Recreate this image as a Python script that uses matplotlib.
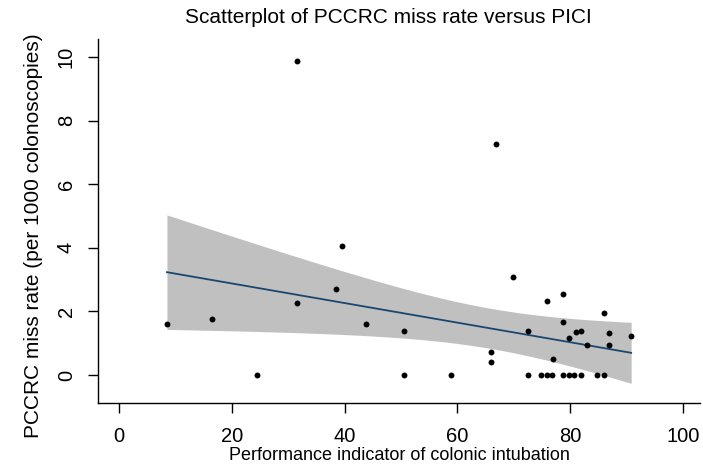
# Scatterplot of PCCRC miss rate against PICI, with linear fit and 95% CI band
import numpy as np
import matplotlib.pyplot as plt

plt.rcParams['font.family'] = ['Liberation Sans', 'DejaVu Sans']

# performance indicator of colonic intubation (%)
pici = [8.5, 16.5, 24.5, 31.5, 31.5, 38.5, 39.5, 43.8, 50.5, 50.5,
        58.8, 65.9, 65.9, 66.8, 69.8, 72.6, 72.6, 74.8, 75.8, 75.8,
        76.8, 77.0, 78.8, 78.8, 78.8, 79.7, 79.7, 80.7, 81.0, 81.9,
        81.9, 82.9, 84.8, 85.9, 85.9, 86.8, 86.8, 90.8]
# PCCRC miss rate per 1000 colonoscopies
miss_rate = [1.60, 1.77, 0.0, 9.88, 2.25, 2.69, 4.06, 1.60, 1.39, 0.0,
             0.0, 0.73, 0.40, 7.26, 3.08, 1.39, 0.0, 0.0, 2.32, 0.0,
             0.0, 0.51, 2.54, 1.66, 0.0, 1.16, 0.0, 0.0, 1.34, 1.39,
             0.0, 0.95, 0.0, 1.94, 0.0, 1.33, 0.95, 1.23]

x = np.array(pici)
y = np.array(miss_rate)

# OLS fit and confidence interval of the mean prediction
n = len(x)
b1, b0 = np.polyfit(x, y, 1)
resid = y - (b0 + b1 * x)
s = np.sqrt(np.sum(resid ** 2) / (n - 2))
t_crit = 2.028  # t(0.975, 36)
xg = np.linspace(x.min(), x.max(), 120)
yg = b0 + b1 * xg
se = s * np.sqrt(1.0 / n + (xg - x.mean()) ** 2 / np.sum((x - x.mean()) ** 2))

fig = plt.figure(figsize=(7.03, 4.68), dpi=100)
ax = fig.add_axes([0.1394, 0.1389, 0.8563, 0.7778])

ax.fill_between(xg, yg - t_crit * se, yg + t_crit * se, color='#c0c0c0',
                linewidth=0)
ax.plot(xg, yg, color='#1a476f', linewidth=1.3)
ax.scatter(x, y, s=18, color='black', zorder=3, linewidths=0)

ax.set_xlim(-3.72, 103.0)
ax.set_ylim(-0.88, 10.57)
ax.set_xticks([0, 20, 40, 60, 80, 100])
ax.set_yticks([0, 2, 4, 6, 8, 10])
ax.tick_params(axis='both', length=7, width=1, labelsize=14.5)
ax.tick_params(axis='x', pad=10)
ax.tick_params(axis='y', pad=9)
for lab in ax.get_yticklabels():
    lab.set_rotation(90)
    lab.set_va('center')

ax.spines['top'].set_visible(False)
ax.spines['right'].set_visible(False)
ax.spines['left'].set_linewidth(1)
ax.spines['bottom'].set_linewidth(1)

ax.set_xlabel('Performance indicator of colonic intubation', fontsize=13, labelpad=1)
ax.set_ylabel('PCCRC miss rate (per 1000 colonoscopies)', fontsize=15)
ax.yaxis.set_label_coords(-0.091, 0.46)
fig.text(0.552, 0.963, 'Scatterplot of PCCRC miss rate versus PICI',
         ha='center', va='center', fontsize=15)

fig.savefig('out.png', dpi=100)
